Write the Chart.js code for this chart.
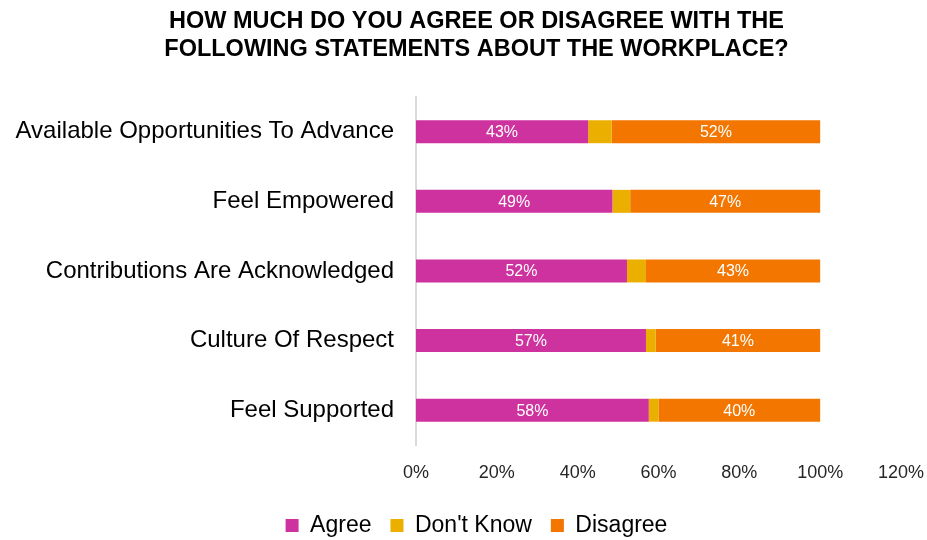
<!DOCTYPE html>
<html>
<head>
<meta charset="utf-8">
<script src="https://cdn.jsdelivr.net/npm/chart.js@4"></script>
<style>
  html, body { margin: 0; padding: 0; background: #fff; }
  #wrap { width: 927px; height: 540px; position: relative; }
</style>
</head>
<body>
<div id="wrap"><canvas id="chart"></canvas></div>
<script>
// Data
const categories = [
    'Available Opportunities To Advance',
    'Feel Empowered',
    'Contributions Are Acknowledged',
    'Culture Of Respect',
    'Feel Supported'
];
const agree = [42.6, 48.6, 52.2, 56.9, 57.6];
const dontKnow = [5.8, 4.4, 4.7, 2.4, 2.4];
const disagree = [51.6, 47.0, 43.1, 40.7, 40.0];
const titleLines = [
    'HOW MUCH DO YOU AGREE OR DISAGREE WITH THE',
    'FOLLOWING STATEMENTS ABOUT THE WORKPLACE?'
];

const FONT = "'Liberation Sans', Arial, sans-serif";

// draws the % labels inside the Agree and Disagree bars
const barLabels = {
    id: 'barLabels',
    afterDatasetsDraw(chart) {
        const ctx = chart.ctx;
        ctx.save();
        ctx.font = `16px ${FONT}`;
        ctx.fillStyle = '#ffffff';
        ctx.textAlign = 'center';
        ctx.textBaseline = 'middle';
        chart.data.datasets.forEach((ds, i) => {
            if (!ds.showLabels) return;
            chart.getDatasetMeta(i).data.forEach((bar, j) => {
                const p = bar.getCenterPoint();
                ctx.fillText(Math.round(ds.data[j]) + '%', p.x, p.y + 1);
            });
        });
        ctx.restore();
    }
};

// long category names run past the left layout padding, so don't clip them
const unclipY = {
    id: 'unclipY',
    afterLayout(chart) {
        chart.scales.y.left = 0;
    }
};

new Chart(document.getElementById('chart'), {
    type: 'bar',
    data: {
        labels: categories,
        datasets: [
            { label: 'Agree', data: agree, backgroundColor: '#CE329E', showLabels: true },
            { label: "Don't Know", data: dontKnow, backgroundColor: '#EBAF00', showLabels: false },
            { label: 'Disagree', data: disagree, backgroundColor: '#F27600', showLabels: true }
        ]
    },
    options: {
        indexAxis: 'y',
        responsive: true,
        maintainAspectRatio: false,
        animation: false,
        layout: { padding: { left: 30, right: 4, top: 0, bottom: -7 } },
        datasets: { bar: { barPercentage: 0.66, categoryPercentage: 0.5 } },
        scales: {
            x: {
                stacked: true,
                min: 0,
                max: 120,
                grid: { display: false, drawTicks: false },
                border: { display: false },
                ticks: {
                    stepSize: 20,
                    padding: 17,
                    color: '#262626',
                    font: { family: FONT, size: 18 },
                    callback: v => v + '%'
                },
                afterFit(scale) {
                    scale.height = 50;
                    scale.paddingRight = 26;
                }
            },
            y: {
                stacked: true,
                grid: { display: false, drawTicks: false },
                border: { display: true, color: '#d9d9d9', width: 2 },
                ticks: {
                    padding: 22,
                    color: '#000000',
                    font: { family: FONT, size: 24 }
                },
                afterFit(scale) { scale.width = 386; }
            }
        },
        plugins: {
            title: {
                display: true,
                text: titleLines,
                color: '#000000',
                font: { family: FONT, size: 23.5, weight: 'bold', lineHeight: 1.19 },
                padding: { top: 8, bottom: 33 }
            },
            legend: {
                position: 'bottom',
                labels: {
                    boxWidth: 13,
                    boxHeight: 13,
                    padding: 19,
                    color: '#000000',
                    font: { family: FONT, size: 23 }
                }
            },
            tooltip: { enabled: false }
        }
    },
    plugins: [barLabels, unclipY]
});
</script>
</body>
</html>
